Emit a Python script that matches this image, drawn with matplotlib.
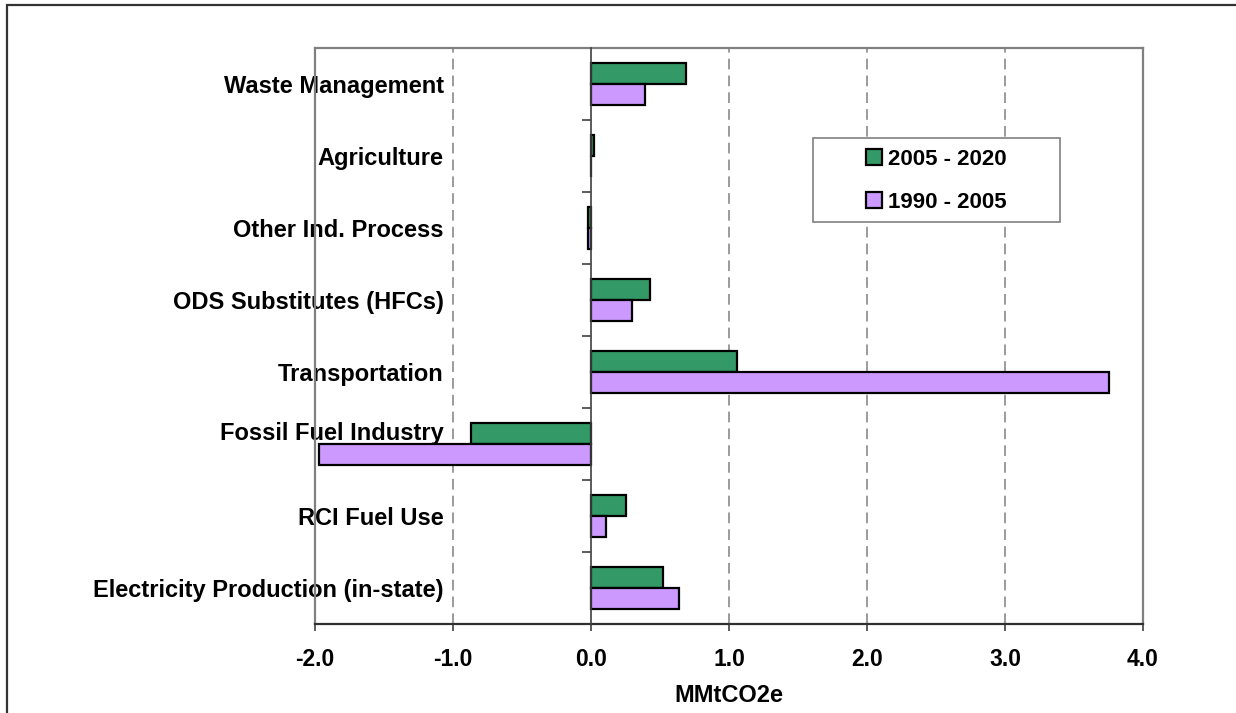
import numpy as np
import matplotlib.pyplot as plt
import matplotlib.transforms as mtransforms
from matplotlib.patches import Rectangle
from matplotlib.lines import Line2D

plt.rcParams['font.family'] = ['Liberation Sans', 'DejaVu Sans']
plt.rcParams['font.weight'] = 'bold'

# ---- data (bottom to top) ----
categories = ['Electricity Production (in-state)', 'RCI Fuel Use', 'Fossil Fuel Industry',
              'Transportation', 'ODS Substitutes (HFCs)', 'Other Ind. Process',
              'Agriculture', 'Waste Management']
vals_2005_2020 = [0.52, 0.25, -0.87, 1.06, 0.43, -0.02, 0.02, 0.69]
vals_1990_2005 = [0.64, 0.11, -1.97, 3.75, 0.30, -0.02, 0.0, 0.39]
series_labels = ['2005 - 2020', '1990 - 2005']
xticks = [-2.0, -1.0, 0.0, 1.0, 2.0, 3.0, 4.0]

green = '#339966'
purple = '#cc99ff'
frame_gray = '#808080'

fig = plt.figure(figsize=(12.36, 7.13), dpi=100)
ax = fig.add_axes([315 / 1236, 89 / 713, 828 / 1236, 576 / 713])

y = np.arange(len(categories))
h = 0.29
b1 = ax.barh(y + h / 2, vals_2005_2020, height=h, color=green, edgecolor='black',
             linewidth=1.6, label=series_labels[0], zorder=3)
b2 = ax.barh(y - h / 2, vals_1990_2005, height=h, color=purple, edgecolor='black',
             linewidth=1.6, label=series_labels[1], zorder=3)

ax.set_xlim(-2, 4)
ax.set_ylim(-0.5, len(categories) - 0.5)

# dashed vertical gridlines
for xv in xticks[1:-1]:
    if xv != 0:
        ax.axvline(xv, color=frame_gray, linestyle=(0, (7, 4)), linewidth=1.1, zorder=1)

# spines
ax.spines['left'].set_position(('data', 0))
ax.spines['left'].set_color('#404040')
ax.spines['left'].set_linewidth(1.2)
ax.spines['left'].set_zorder(4)
ax.spines['bottom'].set_color('#303030')
ax.spines['bottom'].set_linewidth(1.6)
for s in ['top', 'right']:
    ax.spines[s].set_color(frame_gray)
    ax.spines[s].set_linewidth(1.6)
ax.add_line(Line2D([0, 0], [0, 1], transform=ax.transAxes, color=frame_gray,
                   linewidth=1.6, clip_on=False))

# y ticks: labels at centers, marks at boundaries
ax.set_yticks(y)
ax.set_yticklabels(categories, fontsize=17, fontweight='bold')
ax.tick_params(axis='y', which='major', length=0, pad=106)
ax.set_yticks(np.arange(-0.5, len(categories), 1.0), minor=True)
ax.tick_params(axis='y', which='minor', length=6.5, width=1.2, color='#404040', direction='out')

# the Fossil Fuel label sits a little higher, clear of its bar
lab = ax.get_yticklabels()[categories.index('Fossil Fuel Industry')]
lab.set_transform(lab.get_transform() + mtransforms.ScaledTranslation(0, 0.13, fig.dpi_scale_trans))

ax.set_xticks(xticks)
ax.set_xticklabels(['%.1f' % v for v in xticks], fontsize=16.5, fontweight='bold')
ax.tick_params(axis='x', length=5, width=1.2, color='#404040', direction='out', pad=12.5)
ax.set_xlabel('MMtCO2e', fontsize=17, fontweight='bold', labelpad=9)

# legend: box drawn separately, entries placed inside
ax.add_patch(Rectangle((0.6014, 0.6979), 0.2984, 0.1458, transform=ax.transAxes,
                       facecolor='white', edgecolor=frame_gray, linewidth=1.2, zorder=5))
leg = ax.legend(handles=[b1, b2], loc='center left', bbox_to_anchor=(0.6655, 0.769),
                frameon=False, fontsize=16, handlelength=0.72, handleheight=0.72,
                handletextpad=0.25, labelspacing=1.0, borderpad=0, borderaxespad=0)
leg.set_zorder(6)
for t in leg.get_texts():
    t.set_fontweight('bold')

# outer chart border
fig.add_artist(Rectangle((7 / 1236, -0.01), 1.02, 1 - 5 / 713 + 0.01, transform=fig.transFigure,
                         fill=False, edgecolor='#333333', linewidth=1.6))

fig.savefig('out.png', dpi=100)
